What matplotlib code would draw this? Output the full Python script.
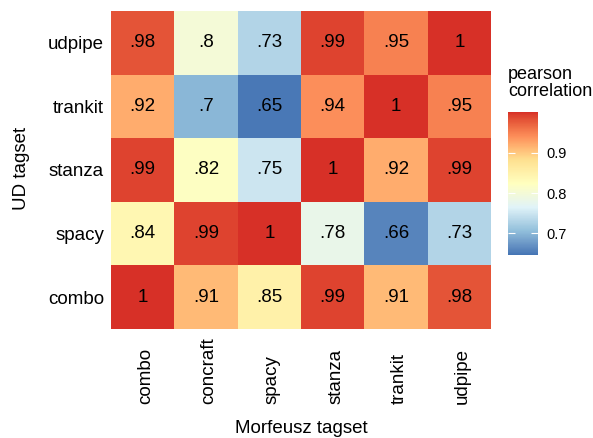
import matplotlib
matplotlib.use('Agg')
import matplotlib.pyplot as plt
from matplotlib.colors import ListedColormap, to_rgb
import numpy as np

plt.rcParams['font.family'] = ['Liberation Sans', 'DejaVu Sans']

morfeusz = ['combo', 'concraft', 'spacy', 'stanza', 'trankit', 'udpipe']
ud = ['combo', 'spacy', 'stanza', 'trankit', 'udpipe']  # bottom to top

r_combo = [1.00, 0.91, 0.85, 0.99, 0.91, 0.98]
r_spacy = [0.84, 0.99, 1.00, 0.78, 0.66, 0.73]
r_stanza = [0.99, 0.82, 0.75, 1.00, 0.92, 0.99]
r_trankit = [0.92, 0.70, 0.65, 0.94, 1.00, 0.95]
r_udpipe = [0.98, 0.80, 0.73, 0.99, 0.95, 1.00]

data = np.array([r_combo, r_spacy, r_stanza, r_trankit, r_udpipe])

vmin, vmax = 0.647, 1.0
pal = ['#4575B4', '#91BFDB', '#E0F3F8', '#FFFFBF', '#FEE090', '#FC8D59', '#D73027']


# ----------------------------------------------------------------------------------------------------
def srgb_to_lab(rgb):
    c = np.array(rgb, dtype=float)
    c = np.where(c <= 0.04045, c / 12.92, ((c + 0.055) / 1.055) ** 2.4)
    M = np.array([[0.4124, 0.3576, 0.1805],
                  [0.2126, 0.7152, 0.0722],
                  [0.0193, 0.1192, 0.9505]])
    xyz = c @ M.T / np.array([0.95047, 1.0, 1.08883])
    f = np.where(xyz > 0.008856, np.cbrt(xyz), 7.787 * xyz + 16. / 116.)
    L = 116 * f[..., 1] - 16
    a = 500 * (f[..., 0] - f[..., 1])
    b = 200 * (f[..., 1] - f[..., 2])
    return np.stack([L, a, b], axis=-1)


def lab_to_srgb(lab):
    L, a, b = lab[..., 0], lab[..., 1], lab[..., 2]
    fy = (L + 16) / 116.
    fx = fy + a / 500.
    fz = fy - b / 200.
    f = np.stack([fx, fy, fz], axis=-1)
    xyz = np.where(f ** 3 > 0.008856, f ** 3, (f - 16. / 116.) / 7.787)
    xyz = xyz * np.array([0.95047, 1.0, 1.08883])
    Minv = np.array([[3.2406, -1.5372, -0.4986],
                     [-0.9689, 1.8758, 0.0415],
                     [0.0557, -0.2040, 1.0570]])
    c = xyz @ Minv.T
    c = np.where(c <= 0.0031308, 12.92 * c, 1.055 * np.clip(c, 0, None) ** (1 / 2.4) - 0.055)
    return np.clip(c, 0, 1)


def lab_cmap(colors, n=256):
    labs = srgb_to_lab([to_rgb(c) for c in colors])
    pos = np.linspace(0, 1, len(colors))
    t = np.linspace(0, 1, n)
    out = np.stack([np.interp(t, pos, labs[:, k]) for k in range(3)], axis=-1)
    return ListedColormap(lab_to_srgb(out))


cmap = lab_cmap(pal)

fig = plt.figure(figsize=(5.93, 4.38), dpi=100)
ax = fig.add_axes([0.1872, 0.2489, 0.6408, 0.726])

im = ax.pcolormesh(np.arange(len(morfeusz) + 1), np.arange(len(ud) + 1), data,
                   cmap=cmap, vmin=vmin, vmax=vmax)


def fmt(v):
    if v >= 1:
        return '1'
    s = '{:.2f}'.format(v).rstrip('0')
    return s[1:]


for i in range(len(ud)):
    for j in range(len(morfeusz)):
        ax.text(j + 0.5, i + 0.5, fmt(data[i, j]), ha='center', va='center',
                fontsize=13.5, color='black')

ax.set_xlim(0, len(morfeusz))
ax.set_ylim(0, len(ud))
ax.set_yticks(np.arange(len(ud)) + 0.5)
ax.set_yticklabels(ud, fontsize=13.5)
ax.set_xticks([])
ax.tick_params(axis='y', length=0, pad=5)
for s in ax.spines.values():
    s.set_visible(False)

for j, name in enumerate(morfeusz):
    ax.text(j + 0.55, -0.236, name, transform=ax.get_xaxis_transform(),
            rotation=90, ha='center', va='bottom', fontsize=13.5)

fig.text(0.508, 0.021, 'Morfeusz tagset', ha='center', va='center', fontsize=13.5)
fig.text(0.037, 0.616, 'UD tagset', ha='center', va='center', rotation=90, fontsize=13.5)

cax = fig.add_axes([0.857, 0.418, 0.0506, 0.326])
cb = fig.colorbar(im, cax=cax, ticks=[0.7, 0.8, 0.9])
cb.outline.set_visible(False)
cb.ax.yaxis.set_ticks_position('both')
cb.ax.tick_params(direction='in', color='white', length=5, width=0.8,
                  labelsize=10.5, pad=6, labelleft=False, labelright=True)
cb.ax.set_yticklabels(['0.7', '0.8', '0.9'])

fig.text(0.857, 0.85, 'pearson\ncorrelation', ha='left', va='top', fontsize=13,
         linespacing=1.0)

fig.savefig('out.png', dpi=100)
